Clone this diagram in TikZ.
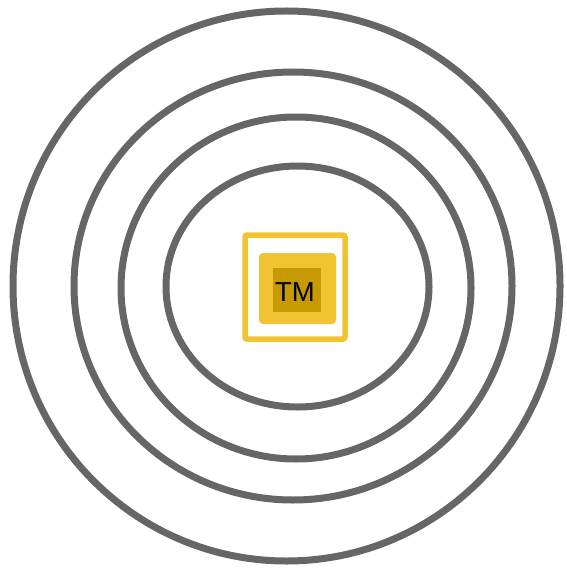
\documentclass[tikz,border=0pt]{standalone}
\usepackage{fontspec}
\setsansfont{Liberation Sans}
\usetikzlibrary{positioning}

\definecolor{ringgray}{HTML}{666666}
\definecolor{tmgold}{HTML}{F1C232}
\definecolor{tmdark}{HTML}{C79A02}

\begin{document}
\begin{tikzpicture}[
    x=1pt, y=-1pt,
    ring/.style={draw=ringgray, line width=7pt},
    frame/.style={
        rectangle, draw=tmgold, line width=5.5pt, rounded corners=2pt,
        minimum width=100pt, minimum height=104pt, inner sep=0pt
    },
    pad/.style={
        rectangle, fill=tmgold, rounded corners=4pt,
        minimum width=77pt, minimum height=71pt, inner sep=0pt
    },
    core/.style={
        rectangle, fill=tmdark,
        minimum width=48pt, minimum height=44pt, inner sep=0pt
    }
]
    \useasboundingbox (0,0) rectangle (566,569);

    % rings, outer to inner
    \draw[ring] (286.5,286) ellipse [x radius=273.5, y radius=275];
    \draw[ring] (293,286) ellipse [x radius=219, y radius=214];
    \draw[ring] (296,288) ellipse [x radius=175, y radius=171];
    \draw[ring] (297.5,286.5) ellipse [x radius=131.5, y radius=120.5];

    % TM mark
    \node[frame] (tmframe) at (295,287) {};
    \node[pad] (tmpad) at (297.5,288.5) {};
    \node[core] (tmcore) at (297,290) {};
    \node[font=\sffamily\fontsize{27.5}{27.5}\selectfont, inner sep=0pt] (tm) at (295,292) {TM};
\end{tikzpicture}
\end{document}
